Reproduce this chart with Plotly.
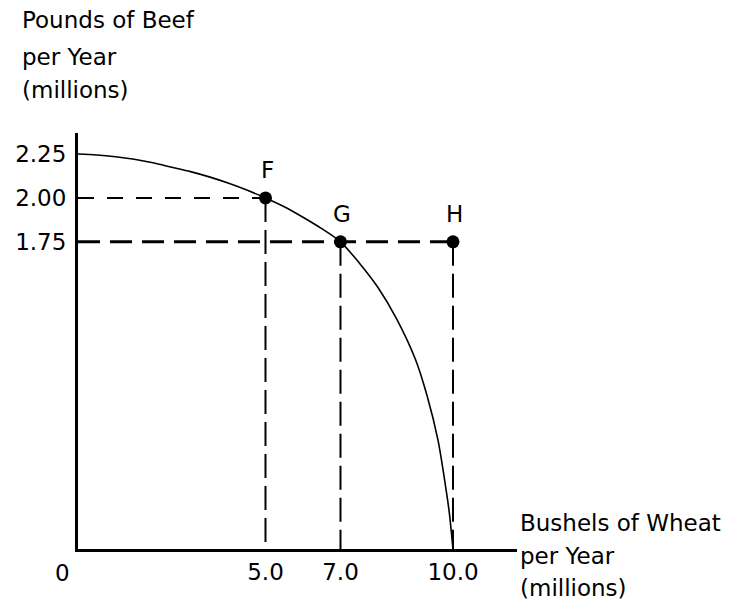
import plotly.graph_objects as go

# ---- data ----
curve_wheat = [0.0, 0.5, 1.0, 1.5, 2.0, 2.5, 3.0, 3.5, 4.0, 4.5, 5.0,
               5.5, 6.0, 6.5, 7.0, 7.5, 8.0, 8.5, 9.0, 9.3, 9.6, 9.8, 9.9, 10.0]
curve_beef = [2.25, 2.245, 2.235, 2.22, 2.20, 2.175, 2.15, 2.12, 2.085, 2.045, 2.0,
              1.95, 1.89, 1.825, 1.75, 1.63, 1.49, 1.31, 1.08, 0.88, 0.62, 0.36, 0.21, 0.0]
point_names = ["F", "G", "H"]
point_wheat = [5.0, 7.0, 10.0]
point_beef = [2.0, 1.75, 1.75]
x_ticks = [5.0, 7.0, 10.0]
x_tick_text = ["5.0", "7.0", "10.0"]
y_ticks = [2.25, 2.00, 1.75]
y_tick_text = ["2.25", "2.00", "1.75"]
y_title_lines = ["Pounds of Beef", "per Year", "(millions)"]
x_title_lines = ["Bushels of Wheat", "per Year", "(millions)"]

FONT = "DejaVu Sans"
FS = 23
fig = go.Figure()

# dashed guide lines
fig.add_trace(go.Scatter(x=[0, point_wheat[0]], y=[point_beef[0]] * 2, mode="lines",
                         line=dict(color="black", width=2, dash="16px,13px"),
                         hoverinfo="skip", showlegend=False))
fig.add_trace(go.Scatter(x=[point_wheat[0]] * 2, y=[point_beef[0], 0], mode="lines",
                         line=dict(color="black", width=2, dash="24px,8px"),
                         hoverinfo="skip", showlegend=False))
fig.add_trace(go.Scatter(x=[0, point_wheat[2]], y=[point_beef[2]] * 2, mode="lines",
                         line=dict(color="black", width=3, dash="22px,10px"),
                         hoverinfo="skip", showlegend=False))
for i in (1, 2):
    fig.add_trace(go.Scatter(x=[point_wheat[i]] * 2, y=[point_beef[i], 0], mode="lines",
                             line=dict(color="black", width=2, dash="24px,8px"),
                             hoverinfo="skip", showlegend=False))

# curve
fig.add_trace(go.Scatter(x=curve_wheat, y=curve_beef, mode="lines",
                         line=dict(color="black", width=1.6, shape="spline", smoothing=0.8),
                         showlegend=False))

# points
fig.add_trace(go.Scatter(x=point_wheat, y=point_beef, mode="markers",
                         marker=dict(color="black", size=13), cliponaxis=False,
                         showlegend=False))

for n, xv, yv in zip(point_names, point_wheat, point_beef):
    fig.add_annotation(x=xv, y=yv, text=n, showarrow=False, yshift=28, xshift=2,
                       font=dict(family=FONT, size=FS, color="black"))

# origin label
fig.add_annotation(x=0, y=0, text="0", showarrow=False, xshift=-16, yshift=-24,
                   font=dict(family=FONT, size=FS, color="black"))

W, H = 738, 603
L, R, T, B = 78, 221, 133, 54
pw, ph = W - L - R, H - T - B
def px2paper(px, py):
    return (px - L) / pw, (H - B - py) / ph

y_pos = [20, 57, 90]
x_pos = [523, 556, 588]
for t, py in zip(y_title_lines, y_pos):
    ax, ay = px2paper(20, py)
    fig.add_annotation(xref="paper", yref="paper", x=ax, y=ay, text=t, showarrow=False,
                       xanchor="left", yanchor="middle",
                       font=dict(family=FONT, size=FS, color="black"))
for t, py in zip(x_title_lines, x_pos):
    ax, ay = px2paper(518, py)
    fig.add_annotation(xref="paper", yref="paper", x=ax, y=ay, text=t, showarrow=False,
                       xanchor="left", yanchor="middle",
                       font=dict(family=FONT, size=FS, color="black"))

fig.update_layout(
    width=W, height=H,
    margin=dict(l=L, r=R, t=T, b=B),
    plot_bgcolor="white", paper_bgcolor="white",
    font=dict(family=FONT, size=FS, color="black"),
    xaxis=dict(range=[0, 11.707], showgrid=False, zeroline=False, showline=True,
               linecolor="black", linewidth=3, ticks="", tickvals=x_ticks,
               ticktext=x_tick_text, ticklabelstandoff=0,
               tickfont=dict(family=FONT, size=FS)),
    yaxis=dict(range=[0, 2.37], showgrid=False, zeroline=False, showline=True,
               linecolor="black", linewidth=3, ticks="", tickvals=y_ticks,
               ticktext=y_tick_text, ticklabelstandoff=4,
               tickfont=dict(family=FONT, size=FS)),
)

fig.write_html("out.html", config={"displayModeBar": False},
               post_script="document.body.style.margin='0';")
